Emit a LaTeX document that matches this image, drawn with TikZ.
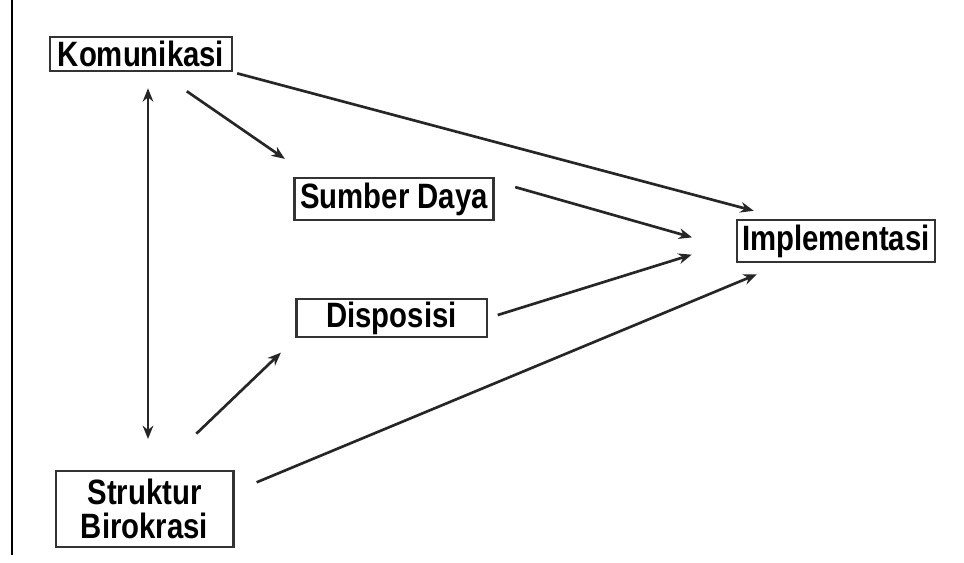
\documentclass[tikz,border=0pt]{standalone}
\usepackage{fontspec}
\setmainfont{Liberation Sans}
\usepackage{tikz}
\usetikzlibrary{arrows.meta}
\newcommand{\tinggi}[1]{\scalebox{1}[1.2]{#1}}

\begin{document}
\begin{tikzpicture}[x=0.75pt,y=0.75pt,yscale=-1,xscale=1,
	faktor/.style={draw=black!80,line width=2pt,fill=white,inner sep=1pt,align=center,
		font=\fontsize{22}{25}\selectfont\bfseries},
	panah/.style={draw=black!85,line width=2pt,-{Stealth[length=10pt,width=8pt]}}]
	\useasboundingbox (0,0) rectangle (964,563);
	
	%Line: left margin rule
	\draw [line width=1.5pt] (12,0) -- (12,555) ;
	
	% Text Node
	\node [faktor, minimum width=136.5pt, minimum height=25.5pt] (kom) at (141,54) {\tinggi{Komunikasi}};
	% Text Node
	\node [faktor, minimum width=149pt, minimum height=31.5pt] (sd) at (394,199) {\tinggi{Sumber Daya}};
	% Text Node
	\node [faktor, minimum width=143pt, minimum height=28.5pt] (disp) at (391.5,318) {\tinggi{Disposisi}};
	% Text Node
	\node [faktor, minimum width=148.5pt, minimum height=31.5pt] (impl) at (836,241) {\tinggi{Implementasi}};
	% Text Node
	\node [faktor, minimum width=133pt, minimum height=57pt] (sb) at (144.5,509) {\tinggi{Struktur}\\\tinggi{Birokrasi}};
	
	%Arrows
	\draw [panah, {Stealth[length=10pt,width=8pt]}-{Stealth[length=10pt,width=8pt]}, shorten <=12pt, shorten >=23pt]
		([xshift=5.25pt]kom.south) -- ([xshift=5.25pt]kom.south |- sb.north) ;
	\draw [panah, shorten <=25pt, shorten >=23.5pt] (kom.-45) -- (sd.165) ;
	\draw [panah, shorten <=3pt, shorten >=23pt] (kom.south east) -- (impl.157) ;
	\draw [panah, shorten <=16pt, shorten >=34pt] (sd.10) -- (impl.185) ;
	\draw [panah, shorten <=7.5pt, shorten >=34.5pt] (disp.east) -- (impl.west) ;
	\draw [panah, shorten <=39pt, shorten >=15.5pt] (sb.70) -- (disp.192) ;
	\draw [panah, shorten <=18pt, shorten >=21.5pt] (sb.11) -- (impl.203) ;
\end{tikzpicture}
\end{document}
